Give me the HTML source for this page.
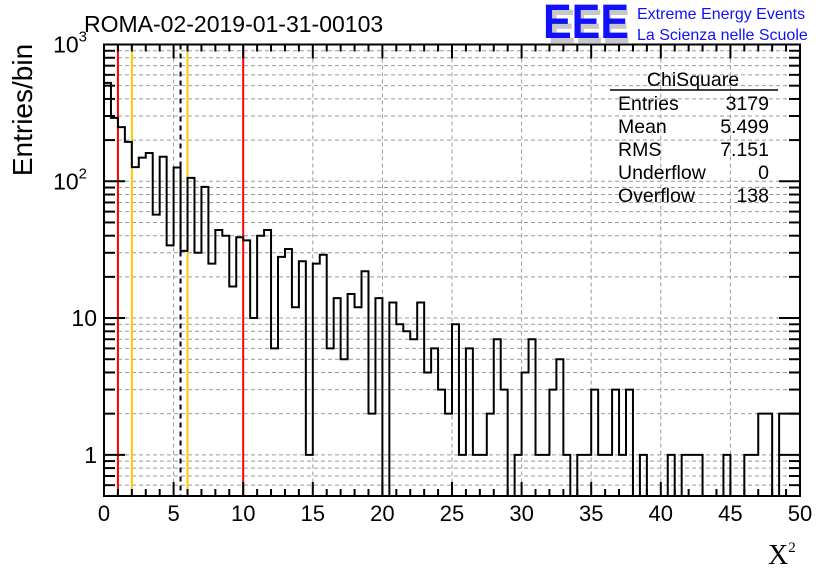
<!DOCTYPE html>
<html><head><meta charset="utf-8"><style>
html,body{margin:0;padding:0;background:#fff;width:836px;height:572px;overflow:hidden}
svg{display:block;font-family:"Liberation Sans",sans-serif}
</style></head><body>
<svg id="chart" width="836" height="572">
<text x="84" y="32" font-size="23">ROMA-02-2019-01-31-00103</text>
<g>
<text x="548" y="43" font-size="48" font-weight="bold" fill="#c8c8c8" textLength="82" lengthAdjust="spacingAndGlyphs">EEE</text>
<text x="543" y="38" font-size="48" font-weight="bold" fill="#1010ff" textLength="86" lengthAdjust="spacingAndGlyphs">EEE</text>
<text x="637" y="19" font-size="16" fill="#1010ff">Extreme Energy Events</text>
<text x="637" y="40" font-size="16" fill="#1010ff">La Scienza nelle Scuole</text>
</g>
<g id="grid"></g>
<g id="marks"></g>
<g id="axes"></g>
<g font-size="19.5">
<text x="693" y="86" text-anchor="middle">ChiSquare</text>
<line x1="610" y1="90" x2="778" y2="90" stroke="#000" stroke-width="1.5"/>
<text x="618" y="110">Entries</text><text x="769" y="110" text-anchor="end">3179</text>
<text x="618" y="133">Mean</text><text x="769" y="133" text-anchor="end">5.499</text>
<text x="618" y="156">RMS</text><text x="769" y="156" text-anchor="end">7.151</text>
<text x="618" y="179">Underflow</text><text x="769" y="179" text-anchor="end">0</text>
<text x="618" y="202">Overflow</text><text x="769" y="202" text-anchor="end">138</text>
</g>
<text transform="translate(32,110) rotate(-90)" font-size="28" text-anchor="middle">Entries/bin</text>
<text x="768" y="564" font-size="28" font-family="Liberation Serif,serif">X<tspan font-size="15" dy="-12">2</tspan></text>
</svg>
<script>
const counts=[524,291,249,194,127,149,161,57,151,34,126,31,106,30,91,25,44,40,17,39,37,10,40,44,6,28,32,12,26,1,25,29,6,14,5,15,12,22,2,14,0,13,9,8,7,13,4,6,3,2,9,1,6,1,1,2,7,3,0,1,4,7,1,1,3,5,1,0,1,1,3,1,1,3,1,3,0,1,0,0,0,1,0,1,1,1,0,0,0,1,0,0,1,1,2,2,0,2,2,2];
const xMin=0,xMax=50,binW=0.5;
const xTicks=[0,5,10,15,20,25,30,35,40,45,50];
const yDecades=[1,10,100,1000];
const yDecadeLabels=["1","10","10","10"];
const yDecadeExp=["","","2","3"];
const redCuts=[1,10];
const orangeCuts=[2,6];
const meanVal=5.499;
const X0=104,X1=800,Y0=496,Y1=44.5,yMinV=0.5,yMaxV=1000;
const NS="http://www.w3.org/2000/svg";
function xs(v){return X0+(v-xMin)/(xMax-xMin)*(X1-X0);}
function ys(v){return Y0-(Math.log10(v)-Math.log10(yMinV))/(Math.log10(yMaxV)-Math.log10(yMinV))*(Y0-Y1);}
function mk(tag,attrs,parent){const e=document.createElementNS(NS,tag);for(const k in attrs)e.setAttribute(k,attrs[k]);parent.appendChild(e);return e;}
const grid=document.getElementById('grid'),marks=document.getElementById('marks'),axes=document.getElementById('axes');
const logTicks=[];
for(let d=0.1;d<=1000;d*=10){for(let m=1;m<=9;m++){const v=+(m*d).toPrecision(3);if(v>=yMinV&&v<yMaxV)logTicks.push(v);}}
logTicks.forEach(v=>{const l=mk('line',{x1:X0,x2:X1,y1:ys(v),y2:ys(v),stroke:'#999','stroke-dasharray':'4,3','stroke-width':1},grid);

});
xTicks.slice(1,-1).forEach(v=>{const l=mk('line',{x1:xs(v),x2:xs(v),y1:Y1,y2:Y0,stroke:'#999','stroke-dasharray':'4,3','stroke-width':1},grid);

});
redCuts.forEach(v=>{const l=mk('line',{x1:xs(v),x2:xs(v),y1:Y1,y2:Y0,stroke:'#f00','stroke-width':2},marks);

});
orangeCuts.forEach(v=>{const l=mk('line',{x1:xs(v),x2:xs(v),y1:Y1,y2:Y0,stroke:'#ffc800','stroke-width':2},marks);

});
const ml=mk('line',{x1:xs(meanVal),x2:xs(meanVal),y1:Y1,y2:Y0,stroke:'#000','stroke-width':2,'stroke-dasharray':'5,4'},marks);


function yv(c){return c>0?ys(c):Y0;}
let d='M'+xs(0)+','+Y0;
counts.forEach((c,i)=>{const y=yv(c);d+=' L'+xs(i*binW)+','+y+' L'+xs((i+1)*binW)+','+y;});
d+=' L'+xs(counts.length*binW)+','+Y0;
const h=mk('path',{d:d,fill:'none',stroke:'#000','stroke-width':2,'stroke-linejoin':'miter'},marks);


const fr=mk('rect',{x:X0,y:Y1,width:X1-X0,height:Y0-Y1,fill:'none',stroke:'#000','stroke-width':2},axes);


for(let v=xMin;v<=xMax;v++){const maj=v%5===0;const L=maj?14:7;const x=xs(v);
mk('line',{x1:x,x2:x,y1:Y0,y2:Y0-L,stroke:'#000','stroke-width':2},axes);
mk('line',{x1:x,x2:x,y1:Y1,y2:Y1+L,stroke:'#000','stroke-width':2},axes);}
xTicks.forEach(v=>{const t=mk('text',{x:xs(v),y:521,'font-size':22,'text-anchor':'middle'},axes);t.textContent=v;

});
logTicks.concat([1000]).forEach(v=>{const maj=yDecades.includes(v);const L=maj?21:11;const y=ys(v);
mk('line',{x1:X0,x2:X0+L,y1:y,y2:y,stroke:'#000','stroke-width':2},axes);
mk('line',{x1:X1,x2:X1-L,y1:y,y2:y,stroke:'#000','stroke-width':2},axes);});
yDecades.forEach((v,i)=>{const t=mk('text',{x:yDecadeExp[i]?87:97,y:ys(v)+8,'font-size':23,'text-anchor':'end'},axes);t.textContent=yDecadeLabels[i];
if(yDecadeExp[i]){const s=mk('tspan',{'font-size':15,dy:-11},t);s.textContent=yDecadeExp[i];}

});
</script>
</body></html>
